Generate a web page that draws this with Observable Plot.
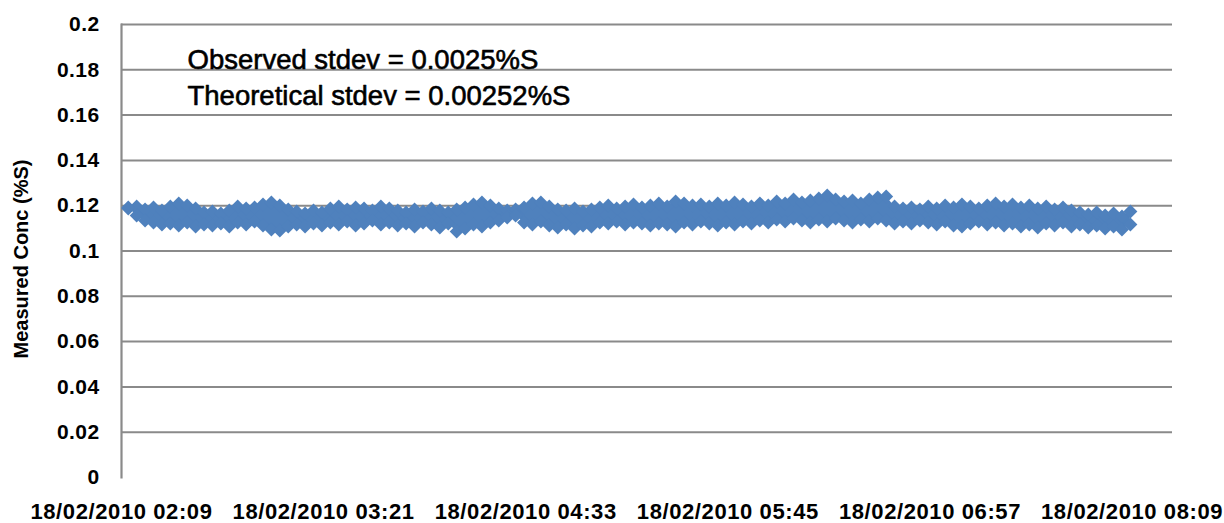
<!DOCTYPE html>
<html>
<head>
<meta charset="utf-8">
<script src="https://cdn.jsdelivr.net/npm/d3@7"></script>
<script src="https://cdn.jsdelivr.net/npm/@observablehq/plot@0.6"></script>
<style>
  body { margin: 0; background: #fff; }
  #chart svg { display: block; }
  g[aria-label="x-axis tick label"] text { font-size: 22px; font-weight: bold; letter-spacing: 0.6px; fill: #000; }
  g[aria-label="y-axis tick label"] text { font-size: 21px; font-weight: bold; letter-spacing: 0.4px; fill: #000; }
</style>
</head>
<body>
<div id="chart"></div>
<script>
// ---- data ----
const startTime = "2010-02-18T02:12:00Z";   // first sample
const stepMinutes = 3;                       // sampling step of the readings below
// upper edge of the marker band (centre of the topmost diamonds), %S
const upperEdge = [
  0.1188,0.1196,0.1183,0.1192,0.1179,0.1196,0.1210,0.1201,0.1188,0.1170,
  0.1174,0.1166,0.1179,0.1196,0.1188,0.1192,0.1205,0.1214,0.1201,0.1183,
  0.1174,0.1166,0.1179,0.1170,0.1188,0.1196,0.1183,0.1192,0.1188,0.1179,
  0.1196,0.1188,0.1179,0.1170,0.1183,0.1174,0.1188,0.1179,0.1170,0.1183,
  0.1192,0.1205,0.1214,0.1201,0.1188,0.1179,0.1183,0.1192,0.1210,0.1214,
  0.1196,0.1183,0.1179,0.1188,0.1174,0.1183,0.1192,0.1201,0.1188,0.1196,
  0.1205,0.1192,0.1201,0.1210,0.1196,0.1219,0.1210,0.1201,0.1205,0.1196,
  0.1210,0.1201,0.1214,0.1205,0.1196,0.1210,0.1201,0.1219,0.1210,0.1227,
  0.1214,0.1223,0.1232,0.1245,0.1227,0.1219,0.1223,0.1210,0.1227,0.1236,
  0.1241,0.1196,0.1188,0.1192,0.1183,0.1196,0.1188,0.1201,0.1192,0.1205,
  0.1196,0.1188,0.1201,0.1210,0.1196,0.1205,0.1192,0.1201,0.1188,0.1196,
  0.1183,0.1192,0.1179,0.1170,0.1161,0.1170,0.1157,0.1166,0.1152,0.1174
];
// lower edge of the marker band (centre of the lowest diamonds), %S
const lowerEdge = [
  0.1192,0.1157,0.1135,0.1126,0.1117,0.1121,0.1113,0.1126,0.1108,0.1117,
  0.1113,0.1121,0.1108,0.1126,0.1117,0.1130,0.1113,0.1095,0.1091,0.1108,
  0.1117,0.1108,0.1121,0.1113,0.1126,0.1117,0.1130,0.1113,0.1121,0.1135,
  0.1117,0.1126,0.1113,0.1121,0.1108,0.1126,0.1117,0.1104,0.1121,0.1086,
  0.1099,0.1117,0.1108,0.1126,0.1135,0.1148,0.1157,0.1126,0.1117,0.1130,
  0.1113,0.1104,0.1117,0.1099,0.1113,0.1108,0.1126,0.1121,0.1130,0.1117,
  0.1126,0.1121,0.1113,0.1121,0.1117,0.1108,0.1126,0.1117,0.1130,0.1121,
  0.1113,0.1126,0.1117,0.1130,0.1121,0.1135,0.1126,0.1139,0.1130,0.1143,
  0.1135,0.1126,0.1139,0.1130,0.1143,0.1135,0.1126,0.1139,0.1130,0.1143,
  0.1135,0.1121,0.1130,0.1121,0.1135,0.1126,0.1117,0.1130,0.1113,0.1108,
  0.1121,0.1130,0.1117,0.1126,0.1113,0.1121,0.1108,0.1117,0.1104,0.1121,
  0.1113,0.1126,0.1108,0.1117,0.1104,0.1113,0.1099,0.1108,0.1095,0.1117
];
const yTicks = [0, 0.02, 0.04, 0.06, 0.08, 0.1, 0.12, 0.14, 0.16, 0.18, 0.2];
const xTicks = [
  "2010-02-18T02:09:36Z", "2010-02-18T03:21:36Z", "2010-02-18T04:33:36Z",
  "2010-02-18T05:45:36Z", "2010-02-18T06:57:36Z", "2010-02-18T08:09:36Z"
];
const xDomain = ["2010-02-18T02:09:36Z", "2010-02-18T08:24:00Z"];
const notes = ["Observed stdev = 0.0025%S", "Theoretical stdev = 0.00252%S"];
const yTitle = "Measured Conc (%S)";

// ---- build table ----
const t0 = new Date(startTime).getTime();
const rows = upperEdge.map((hi, i) => ({
  t: new Date(t0 + i * stepMinutes * 60000),
  hi,
  lo: lowerEdge[i]
}));

const blue = "#4F81BD";
const grid = "#8a8a8a";
const fmt = d3.utcFormat("%d/%m/%Y %H:%M");

const chart = Plot.plot({
  width: 1224,
  height: 523,
  marginLeft: 121,
  marginRight: 52,
  marginTop: 24,
  marginBottom: 46,
  style: { fontFamily: "Arial, 'Liberation Sans', sans-serif", background: "#fff", color: "#000" },
  x: { type: "utc", domain: xDomain.map(d => new Date(d)) },
  y: { domain: [0, 0.2] },
  marks: [
    Plot.ruleY(yTicks.filter(d => d > 0), { stroke: grid, strokeWidth: 2 }),
    Plot.frame({ anchor: "left", stroke: grid, strokeWidth: 2.2 }),
    Plot.areaY(rows, { x: "t", y1: "lo", y2: "hi", fill: blue, curve: "linear" }),
    Plot.dot(rows, { x: "t", y: "hi", symbol: "diamond2", r: 6.3, fill: blue, stroke: "none" }),
    Plot.dot(rows, { x: "t", y: "lo", symbol: "diamond2", r: 6.3, fill: blue, stroke: "none" }),
    Plot.axisX({ ticks: xTicks.map(d => new Date(d)), tickFormat: fmt, tickSize: 0, tickPadding: 26, label: null }),
    Plot.axisY({ ticks: yTicks, tickFormat: d => String(d), tickSize: 0, tickPadding: 22, label: null }),
    Plot.text([notes[0]], { frameAnchor: "top-left", dx: 66, dy: 25, textAnchor: "start", fontSize: 27.5, fill: "#000", stroke: "#000", strokeWidth: 0.6 }),
    Plot.text([notes[1]], { frameAnchor: "top-left", dx: 66, dy: 61, textAnchor: "start", fontSize: 27.5, fill: "#000", stroke: "#000", strokeWidth: 0.6 }),
    Plot.text([yTitle], { frameAnchor: "left", dx: -100, dy: 8, rotate: -90, textAnchor: "middle", fontSize: 20, fontWeight: "bold", fill: "#000" })
  ]
});
document.getElementById("chart").appendChild(chart);
</script>
</body>
</html>
